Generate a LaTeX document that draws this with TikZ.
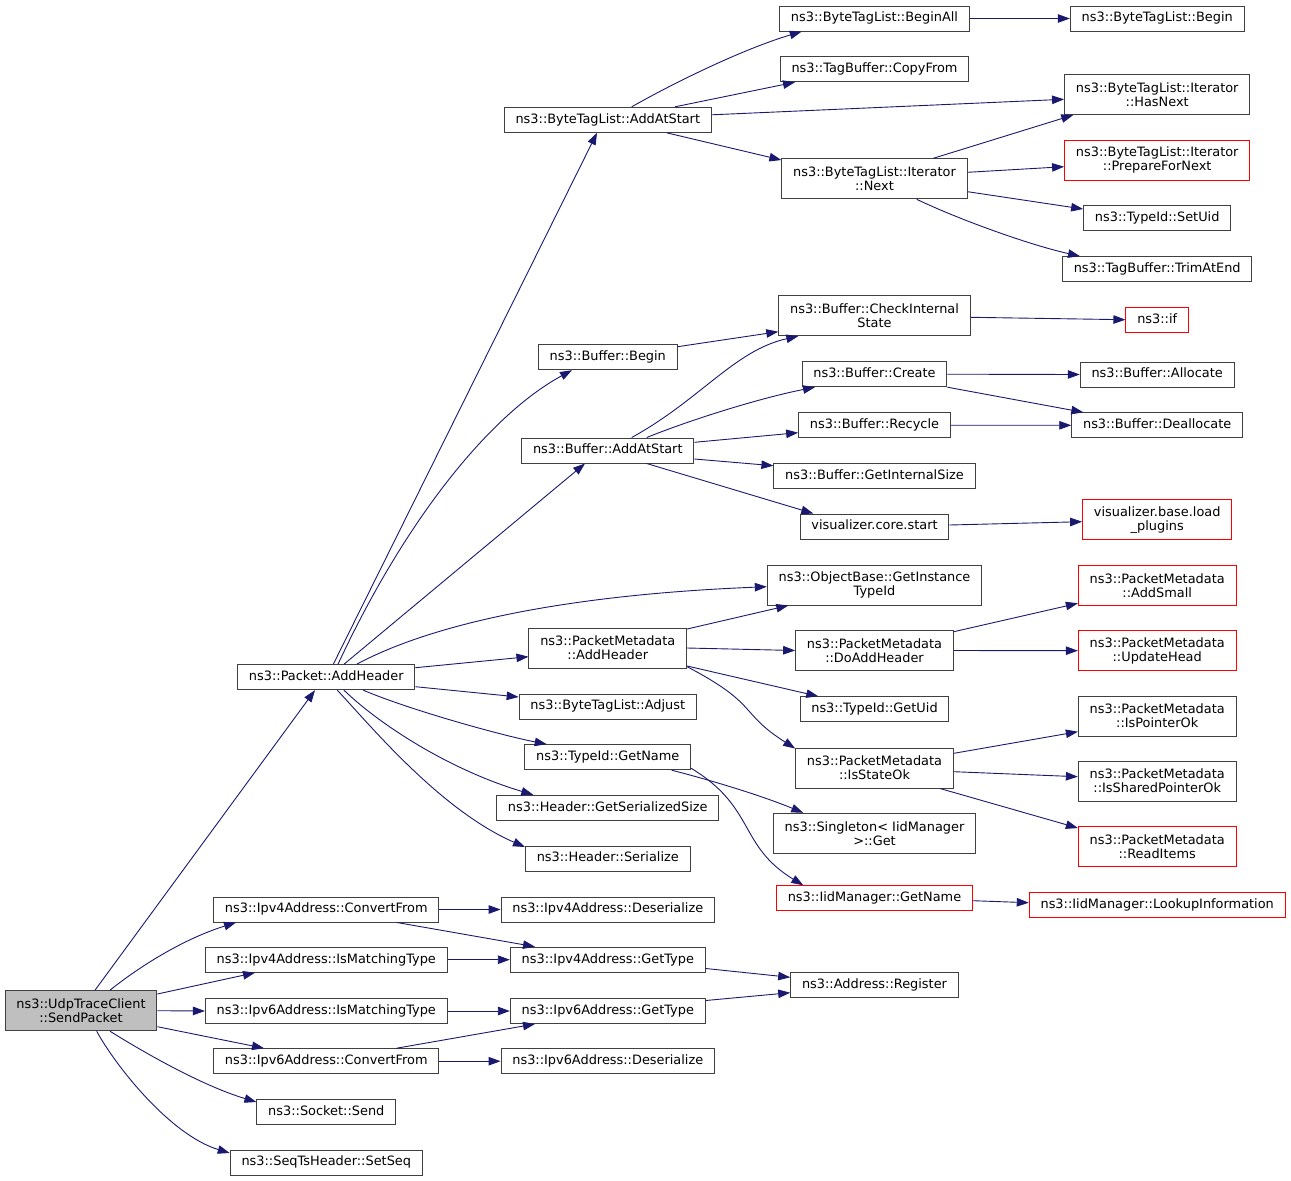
\documentclass[tikz,border=0pt]{standalone}
\usepackage{fontspec}
\setmainfont{DejaVu Sans}
\usetikzlibrary{arrows.meta}
\definecolor{edgeblue}{HTML}{191970}
\definecolor{boxline}{HTML}{404040}
\definecolor{boxred}{HTML}{FF0000}
\definecolor{rootfill}{HTML}{BFBFBF}

\begin{document}
\begin{tikzpicture}[x=1pt,y=-1pt,font=\fontsize{12.9pt}{14.2pt}\selectfont,
  box/.style={draw=boxline,fill=white,line width=1pt,inner xsep=11.3pt,inner ysep=0pt},
  func/.style={box,minimum height=25pt,text height=9.8pt,text depth=3pt},
  func2/.style={box,align=center,minimum height=40pt},
  redbox/.style={draw=boxred},
  rootbox/.style={fill=rootfill},
  calls/.style={draw=edgeblue,line width=0.9pt,-{Triangle[length=12pt,width=8.5pt]}}]
  \useasboundingbox (0,0) rectangle (1291,1181);

  \node[func2,rootbox] (SendPacket) at (81,1010.7) {ns3::UdpTraceClient\\::SendPacket};
  \node[func] (PktAddHeader) at (326.3,677.2) {ns3::Packet::AddHeader};
  \node[func] (V4ConvertFrom) at (326.3,909.5) {ns3::Ipv4Address::ConvertFrom};
  \node[func] (V4IsMatching) at (326.3,959.7) {ns3::Ipv4Address::IsMatchingType};
  \node[func] (V6IsMatching) at (326.3,1011) {ns3::Ipv6Address::IsMatchingType};
  \node[func] (V6ConvertFrom) at (326.3,1061.2) {ns3::Ipv6Address::ConvertFrom};
  \node[func] (SocketSend) at (326.3,1111.7) {ns3::Socket::Send};
  \node[func] (SetSeq) at (326.3,1162.5) {ns3::SeqTsHeader::SetSeq};

  \node[func] (TagAddAtStart) at (607.8,119.8) {ns3::ByteTagList::AddAtStart};
  \node[func] (BufBegin) at (607.8,357.2) {ns3::Buffer::Begin};
  \node[func] (BufAddAtStart) at (607.8,450.5) {ns3::Buffer::AddAtStart};
  \node[func2] (MetaAddHeader) at (607.8,648) {ns3::PacketMetadata\\::AddHeader};
  \node[func] (TagAdjust) at (607.8,706.5) {ns3::ByteTagList::Adjust};
  \node[func] (TypeIdGetName) at (607.8,757.2) {ns3::TypeId::GetName};
  \node[func] (GetSerializedSize) at (607.8,807.8) {ns3::Header::GetSerializedSize};
  \node[func] (HeaderSerialize) at (607.8,858.5) {ns3::Header::Serialize};
  \node[func] (V4Deserialize) at (607.8,909.5) {ns3::Ipv4Address::Deserialize};
  \node[func] (V4GetType) at (607.8,959.7) {ns3::Ipv4Address::GetType};
  \node[func] (V6GetType) at (607.8,1011) {ns3::Ipv6Address::GetType};
  \node[func] (V6Deserialize) at (607.8,1061.2) {ns3::Ipv6Address::Deserialize};

  \node[func] (TagBeginAll) at (874.5,18.5) {ns3::ByteTagList::BeginAll};
  \node[func] (TagCopyFrom) at (874.5,69.2) {ns3::TagBuffer::CopyFrom};
  \node[func2] (IterNext) at (874.5,178.8) {ns3::ByteTagList::Iterator\\::Next};
  \node[func2] (CheckInternal) at (874.5,315.7) {ns3::Buffer::CheckInternal\\State};
  \node[func] (BufCreate) at (874.5,374.2) {ns3::Buffer::Create};
  \node[func] (BufRecycle) at (874.5,425.2) {ns3::Buffer::Recycle};
  \node[func] (BufGetSize) at (874.5,475.8) {ns3::Buffer::GetInternalSize};
  \node[func] (VisStart) at (874.5,526.5) {visualizer.core.start};
  \node[func2] (GetInstanceTypeId) at (874.5,585) {ns3::ObjectBase::GetInstance\\TypeId};
  \node[func2] (MetaDoAddHeader) at (874.5,650.5) {ns3::PacketMetadata\\::DoAddHeader};
  \node[func] (TypeIdGetUid) at (874.5,709.3) {ns3::TypeId::GetUid};
  \node[func2] (MetaIsStateOk) at (874.5,768) {ns3::PacketMetadata\\::IsStateOk};
  \node[func2] (SingletonGet) at (874.5,833.3) {ns3::Singleton< IidManager\\>::Get};
  \node[func,redbox] (IidGetName) at (874.5,898.3) {ns3::IidManager::GetName};
  \node[func] (AddrRegister) at (874.5,985) {ns3::Address::Register};

  \node[func] (TagBegin) at (1157.2,18.5) {ns3::ByteTagList::Begin};
  \node[func2] (IterHasNext) at (1157.2,94.5) {ns3::ByteTagList::Iterator\\::HasNext};
  \node[func2,redbox] (IterPrepare) at (1157.2,160) {ns3::ByteTagList::Iterator\\::PrepareForNext};
  \node[func] (TypeIdSetUid) at (1157.2,218.3) {ns3::TypeId::SetUid};
  \node[func] (TrimAtEnd) at (1157.2,269.2) {ns3::TagBuffer::TrimAtEnd};
  \node[func,redbox] (NsIf) at (1157.2,319.7) {ns3::if};
  \node[func] (BufAllocate) at (1157.2,374.5) {ns3::Buffer::Allocate};
  \node[func] (BufDeallocate) at (1157.2,425.3) {ns3::Buffer::Deallocate};
  \node[func2,redbox] (VisLoadPlugins) at (1157.2,519.8) {visualizer.base.load\\\_plugins};
  \node[func2,redbox] (MetaAddSmall) at (1157.2,585.3) {ns3::PacketMetadata\\::AddSmall};
  \node[func2,redbox] (MetaUpdateHead) at (1157.2,650.7) {ns3::PacketMetadata\\::UpdateHead};
  \node[func2] (MetaIsPointerOk) at (1157.2,716) {ns3::PacketMetadata\\::IsPointerOk};
  \node[func2] (MetaIsSharedOk) at (1157.2,781) {ns3::PacketMetadata\\::IsSharedPointerOk};
  \node[func2,redbox] (MetaReadItems) at (1157.2,846.7) {ns3::PacketMetadata\\::ReadItems};
  \node[func,redbox] (IidLookup) at (1157.2,905.3) {ns3::IidManager::LookupInformation};

  \draw[calls] ([xshift=14pt]SendPacket.north) -- ([xshift=-11.3pt]PktAddHeader.south);
  \draw[calls] ([xshift=29pt]SendPacket.north) .. controls (135,970) and (180,940) .. ([xshift=-90.3pt]V4ConvertFrom.south);
  \draw[calls] ([yshift=16.7pt]SendPacket.east) -- ([xshift=-71.3pt]V4IsMatching.south);
  \draw[calls] (SendPacket.east) -- (V6IsMatching.west);
  \draw[calls] ([yshift=-16pt]SendPacket.east) -- ([xshift=-62.3pt]V6ConvertFrom.north);
  \draw[calls] ([xshift=29pt]SendPacket.south) .. controls (140,1050) and (200,1085) .. ([yshift=9.7pt]SocketSend.west);
  \draw[calls] ([xshift=15.7pt]SendPacket.south) .. controls (115,1065) and (170,1135) .. ([yshift=9.5pt]SetSeq.west);

  \draw[calls] ([xshift=7pt]PktAddHeader.north) -- ([xshift=-10.8pt]TagAddAtStart.south);
  \draw[calls] ([xshift=11.7pt]PktAddHeader.north) .. controls (408,514) and (493,413) .. ([xshift=-35.8pt]BufBegin.south);
  \draw[calls] ([xshift=17.7pt]PktAddHeader.north) -- ([xshift=-22.8pt]BufAddAtStart.south);
  \draw[calls] ([xshift=30.4pt]PktAddHeader.north) .. controls (430,625) and (560,595) .. ([yshift=-1.7pt]GetInstanceTypeId.west);
  \draw[calls] ([yshift=9.5pt]PktAddHeader.east) -- ([yshift=-8.7pt]MetaAddHeader.west);
  \draw[calls] ([yshift=-9.5pt]PktAddHeader.east) -- ([yshift=9.5pt]TagAdjust.west);
  \draw[calls] ([xshift=37pt]PktAddHeader.south) .. controls (410,710) and (500,735) .. ([xshift=-61.1pt]TypeIdGetName.north);
  \draw[calls] ([xshift=17.7pt]PktAddHeader.south) .. controls (380,725) and (450,770) .. ([xshift=-74.5pt]GetSerializedSize.north);
  \draw[calls] ([xshift=11pt]PktAddHeader.south) .. controls (370,725) and (440,810) .. ([yshift=11.5pt]HeaderSerialize.west);

  \draw[calls] ([xshift=23.9pt]TagAddAtStart.north) .. controls (670,85) and (740,50) .. ([xshift=-72.8pt]TagBeginAll.south);
  \draw[calls] ([xshift=67.2pt]TagAddAtStart.north) -- ([xshift=-79.5pt]TagCopyFrom.south);
  \draw[calls] ([yshift=5pt]TagAddAtStart.east) -- ([yshift=-4.8pt]IterHasNext.west);
  \draw[calls] ([xshift=58.9pt]TagAddAtStart.south) -- ([yshift=18.8pt]IterNext.west);
  \draw[calls] (TagBeginAll.east) -- (TagBegin.west);
  \draw[calls] ([xshift=58.8pt]IterNext.north) -- ([xshift=-83.9pt]IterHasNext.south);
  \draw[calls] ([yshift=6.5pt]IterNext.east) -- ([yshift=-6.7pt]IterPrepare.west);
  \draw[calls] ([yshift=-12.9pt]IterNext.east) -- ([yshift=9.3pt]TypeIdSetUid.west);
  \draw[calls] ([xshift=42.2pt]IterNext.south) .. controls (960,220) and (1030,245) .. ([xshift=-77.2pt]TrimAtEnd.north);

  \draw[calls] ([yshift=10.5pt]BufBegin.east) -- ([yshift=-16pt]CheckInternal.west);
  \draw[calls] ([yshift=-1.6pt]CheckInternal.east) -- (NsIf.west);
  \draw[calls] ([xshift=23.9pt]BufAddAtStart.north) .. controls (700,400) and (735,350) .. ([xshift=-76.2pt]CheckInternal.south);
  \draw[calls] ([xshift=38.9pt]BufAddAtStart.north) .. controls (690,420) and (760,398) .. ([xshift=-59.5pt]BufCreate.south);
  \draw[calls] ([yshift=8.2pt]BufAddAtStart.east) -- ([yshift=-7.5pt]BufRecycle.west);
  \draw[calls] ([yshift=-8.5pt]BufAddAtStart.east) -- ([yshift=10.1pt]BufGetSize.west);
  \draw[calls] ([xshift=38.9pt]BufAddAtStart.south) -- ([xshift=-61.2pt]VisStart.north);
  \draw[calls] (BufCreate.east) -- (BufAllocate.west);
  \draw[calls] (BufCreate.south east) -- ([xshift=-73.9pt]BufDeallocate.north);
  \draw[calls] (BufRecycle.east) -- (BufDeallocate.west);
  \draw[calls] ([yshift=1.5pt]VisStart.east) -- ([yshift=-1.9pt]VisLoadPlugins.west);

  \draw[calls] ([yshift=19pt]MetaAddHeader.east) -- ([xshift=-86.2pt]GetInstanceTypeId.south);
  \draw[calls] (MetaAddHeader.east) -- (MetaDoAddHeader.west);
  \draw[calls] ([yshift=-18pt]MetaAddHeader.east) -- ([xshift=-56.2pt]TypeIdGetUid.north);
  \draw[calls] ([yshift=-18.7pt]MetaAddHeader.east) .. controls (760,705) and (738,712) .. ([yshift=19.5pt]MetaIsStateOk.west);
  \draw[calls] ([yshift=18.8pt]MetaDoAddHeader.east) -- ([yshift=-18pt]MetaAddSmall.west);
  \draw[calls] (MetaDoAddHeader.east) -- (MetaUpdateHead.west);
  \draw[calls] ([yshift=14.7pt]MetaIsStateOk.east) -- ([yshift=-15.7pt]MetaIsPointerOk.west);
  \draw[calls] ([yshift=-3.7pt]MetaIsStateOk.east) -- ([yshift=4.3pt]MetaIsSharedOk.west);
  \draw[calls] ([xshift=65.5pt]MetaIsStateOk.south) -- ([yshift=18.7pt]MetaReadItems.west);

  \draw[calls] ([xshift=63.9pt]TypeIdGetName.south) .. controls (710,780) and (760,795) .. ([xshift=-71.2pt]SingletonGet.north);
  \draw[calls] ([yshift=-11.1pt]TypeIdGetName.east) .. controls (755.7,807.3) and (738.3,845.7) .. ([xshift=-71.2pt]IidGetName.north);
  \draw[calls] ([yshift=-2.4pt]IidGetName.east) -- ([yshift=2.6pt]IidLookup.west);

  \draw[calls] (V4ConvertFrom.east) -- (V4Deserialize.west);
  \draw[calls] ([xshift=70.7pt]V4ConvertFrom.south) -- ([xshift=-72.8pt]V4GetType.north);
  \draw[calls] (V4IsMatching.east) -- (V4GetType.west);
  \draw[calls] ([yshift=-8.8pt]V4GetType.east) -- ([yshift=7.7pt]AddrRegister.west);
  \draw[calls] (V6IsMatching.east) -- (V6GetType.west);
  \draw[calls] ([yshift=10.5pt]V6GetType.east) -- ([yshift=-7.7pt]AddrRegister.west);
  \draw[calls] ([xshift=70.3pt]V6ConvertFrom.north) -- ([xshift=-72.8pt]V6GetType.south);
  \draw[calls] (V6ConvertFrom.east) -- (V6Deserialize.west);
\end{tikzpicture}
\end{document}
